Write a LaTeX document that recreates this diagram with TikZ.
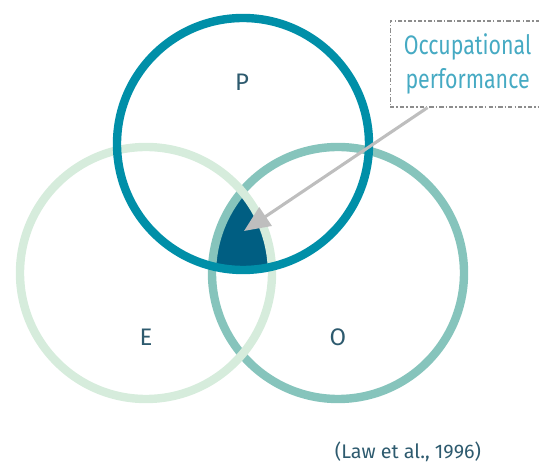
\documentclass[tikz,border=0pt]{standalone}
\usepackage{fontspec}
\setmainfont{Fira Sans}
\newfontfamily\narrowfont{Fira Sans}[FakeStretch=0.8]
\usetikzlibrary{arrows.meta,positioning}
\definecolor{pteal}{RGB}{0,143,168}
\definecolor{oteal}{RGB}{134,196,188}
\definecolor{egreen}{RGB}{214,236,220}
\definecolor{core}{RGB}{0,94,130}
\definecolor{ink}{RGB}{45,90,110}
\definecolor{cyantext}{RGB}{70,170,195}
\definecolor{agray}{RGB}{190,190,190}
\definecolor{bgray}{RGB}{140,140,140}
\tikzset{
  ring/.style={line width=0.21cm,draw=#1},
  lbl/.style={font=\fontsize{17}{20}\selectfont,text=ink},
  callout/.style={draw=bgray,line width=0.8pt,dash pattern=on 3pt off 1.5pt on 1pt off 1.5pt,
    minimum width=3.875cm,minimum height=2.15cm,align=center,text=cyantext,
    font=\narrowfont\fontsize{19}{24}\selectfont},
  ptr/.style={-{Triangle[length=6.5mm,width=5.5mm]},line width=2.2pt,agray},
}

\begin{document}
\begin{tikzpicture}
 \useasboundingbox (0,0) rectangle (13.475,11.55);
 % the three rings: person, environment, occupation
 \def\rad{3.15}
 \coordinate (pc) at (6.075,7.95);
 \coordinate (ec) at (3.65,4.725);
 \coordinate (oc) at (8.45,4.725);
 % shared region of all three
 \begin{scope}
  \clip (ec) circle (\rad);
  \clip (oc) circle (\rad);
  \fill[core] (pc) circle (\rad);
 \end{scope}
 \draw[ring=oteal] (oc) circle (\rad);
 \draw[ring=egreen] (ec) circle (\rad);
 \draw[ring=pteal] (pc) circle (\rad);
 \node[lbl] (plbl) at (6.05,9.5) {P};
 \node[lbl] (elbl) at (3.65,3.125) {E};
 \node[lbl] (olbl) at (8.45,3.125) {O};
 % callout box and pointer
 \node[callout] (perf) at (11.69,9.95) {Occupational\\performance};
 \coordinate (tip) at (6.1,5.775);
 \draw[ptr] ([xshift=-1cm]perf.south) -- (tip);
 \node[text=ink,font=\fontsize{14}{16}\selectfont] (src) at (10.2,0.25) {(Law et al., 1996)};
\end{tikzpicture}
\end{document}
